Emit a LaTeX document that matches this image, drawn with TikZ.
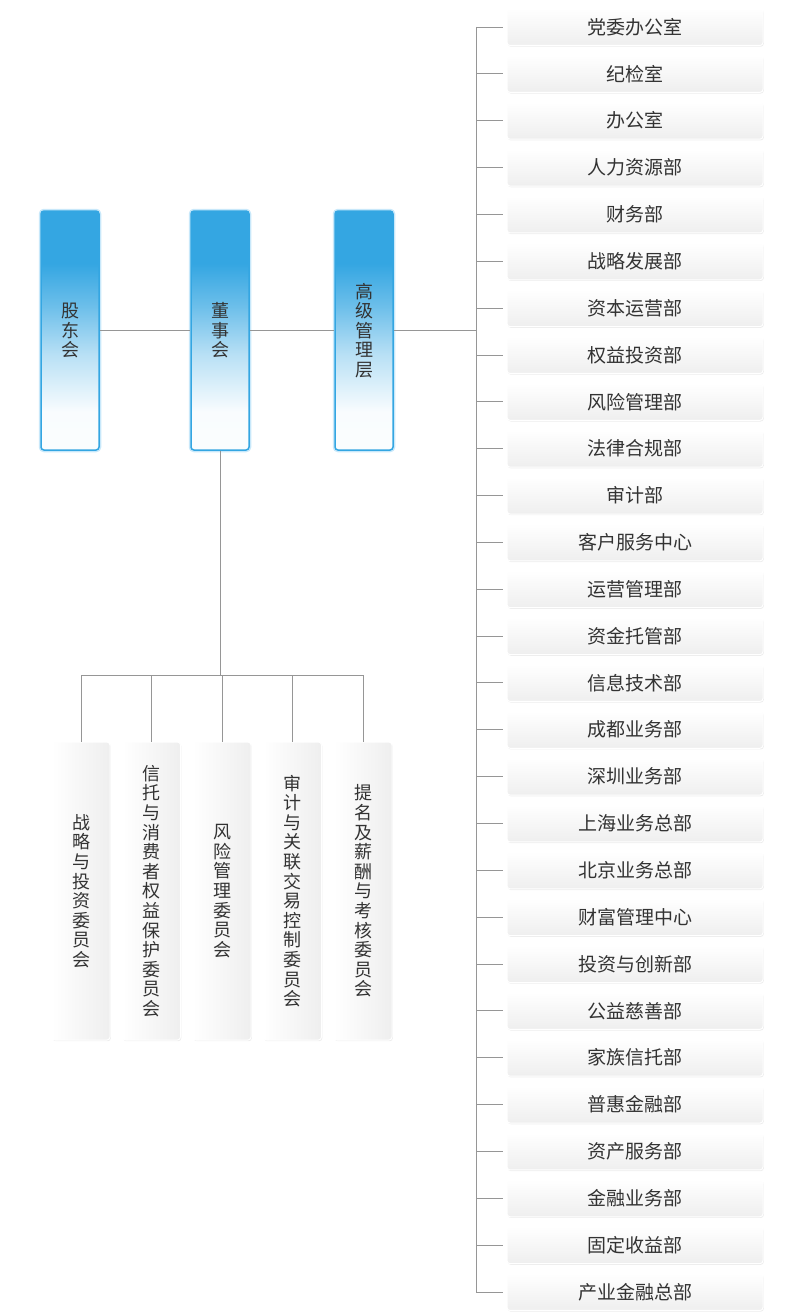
\documentclass[tikz,border=0pt]{standalone}
\usepackage{fontspec}
\newfontfamily\cjk{Noto Sans CJK SC}
\usetikzlibrary{shadows}

\definecolor{boxblue}{RGB}{52,166,226}
\definecolor{glowblue}{RGB}{200,232,250}
\definecolor{textgray}{RGB}{51,51,51}
\definecolor{linegray}{RGB}{150,150,150}
\pgfdeclareverticalshading{bluefade}{100bp}{color(0bp)=(white); color(33bp)=(white!97!boxblue); color(45bp)=(boxblue!35); color(55bp)=(boxblue!72); color(64bp)=(boxblue); color(100bp)=(boxblue)}

\begin{document}
\begin{tikzpicture}[x=1pt,y=-1pt,
  topbox/.style={rounded corners=3pt, minimum width=58pt, minimum height=239pt, inner sep=0pt,
    preaction={draw=glowblue, line width=4.5pt}, shading=bluefade, draw=boxblue, line width=1.5pt,
    text=textgray, align=center, font=\cjk\fontsize{18}{19.5}\selectfont},
  deptbox/.style={rounded corners=3pt, minimum width=256pt, minimum height=37pt, inner sep=0pt,
    drop shadow={shadow xshift=0.8pt, shadow yshift=-1.2pt, opacity=0.15},
    top color=white, bottom color=gray!13, draw=white, line width=1pt,
    text=textgray, font=\cjk\fontsize{19}{20}\selectfont},
  combox/.style={rounded corners=3pt, minimum width=58pt, minimum height=298pt, inner sep=0pt,
    drop shadow={shadow xshift=0.8pt, shadow yshift=-1.2pt, opacity=0.15},
    left color=white, right color=gray!13, draw=white, line width=1pt,
    text=textgray, align=center, font=\cjk\fontsize{18}{19.6}\selectfont},
  link/.style={draw=linegray, line width=0.9pt}
]

  \useasboundingbox (0,0) rectangle (807,1314);

  \pgfmathsetmacro{\deptx}{635}
  \pgfmathsetmacro{\depttop}{27}
  \pgfmathsetmacro{\deptstep}{46.85}

  % Top level
  \node[topbox] (gudong)  at (70,330.5)  {股\\东\\会};
  \node[topbox] (dongshi) at (220,330.5) {董\\事\\会};
  \node[topbox] (gaoji)   at (364,330.5) {高\\级\\管\\理\\层};

  \draw[link] (gudong.east) -- (dongshi.west);
  \draw[link] (dongshi.east) -- (gaoji.west);

  % Committees under the board
  \coordinate (bus) at (0,675);
  \foreach \name [count=\i] in {战\\略\\与\\投\\资\\委\\员\\会,
      信\\托\\与\\消\\费\\者\\权\\益\\保\\护\\委\\员\\会,
      风\\险\\管\\理\\委\\员\\会,
      审\\计\\与\\关\\联\\交\\易\\控\\制\\委\\员\\会,
      提\\名\\及\\薪\\酬\\与\\考\\核\\委\\员\\会}
  {
    \node[combox] (com\i) at ({81+70.5*(\i-1)},891) {\name};
    \draw[link] (com\i.north |- bus) -- (com\i.north); % Drop
  }
  \draw[link] (dongshi.south) -- (dongshi.south |- bus);
  \draw[link] (com1.north |- bus) -- (com5.north |- bus);

  % Departments under management
  \foreach \name [count=\i] in {党委办公室, 纪检室, 办公室, 人力资源部, 财务部,
      战略发展部, 资本运营部, 权益投资部, 风险管理部, 法律合规部, 审计部,
      客户服务中心, 运营管理部, 资金托管部, 信息技术部, 成都业务部, 深圳业务部,
      上海业务总部, 北京业务总部, 财富管理中心, 投资与创新部, 公益慈善部,
      家族信托部, 普惠金融部, 资产服务部, 金融业务部, 固定收益部, 产业金融总部}
  {
    \node[deptbox] (d\i) at (\deptx,{\depttop+\deptstep*(\i-1)}) {\name};
  }

  \coordinate (trunk) at (476,0);
  \draw[link] (trunk |- d1.west) -- (trunk |- d28.west);
  \foreach \i in {1,...,28}{
    \draw[link, shorten >=4pt] (trunk |- d\i.west) -- (d\i.west); % Tick
  }
  \draw[link] (gaoji.east) -- (gaoji.east -| trunk);

\end{tikzpicture}
\end{document}
